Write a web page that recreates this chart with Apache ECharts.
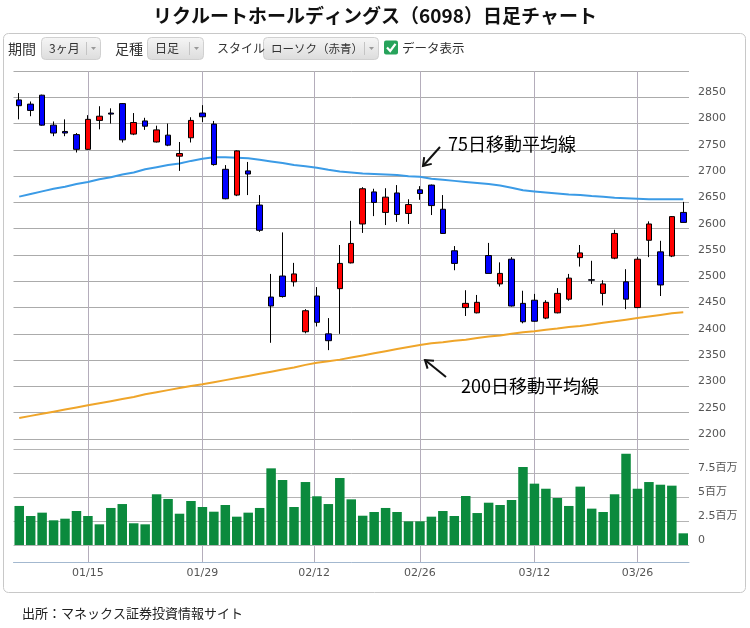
<!DOCTYPE html>
<html><head><meta charset="utf-8">
<script src="https://cdn.jsdelivr.net/npm/echarts@6/dist/echarts.min.js"></script>
<style>html,body{margin:0;padding:0;background:#fff;}#c{width:750px;height:628px;}</style>
</head><body><div id="c"></div>
<script>
// ---- data (2018) ----
const dates = ['01/04','01/05','01/09','01/10','01/11','01/12','01/15','01/16','01/17','01/18',
 '01/19','01/22','01/23','01/24','01/25','01/26','01/29','01/30','01/31','02/01',
 '02/02','02/05','02/06','02/07','02/08','02/09','02/13','02/14','02/15','02/16',
 '02/19','02/20','02/21','02/22','02/23','02/26','02/27','02/28','03/01','03/02',
 '03/05','03/06','03/07','03/08','03/09','03/12','03/13','03/14','03/15','03/16',
 '03/19','03/20','03/22','03/23','03/26','03/27','03/28','03/29','03/30'];
const opens  = [2845,2837,2854,2797,2785,2779,2751,2806,2820,2838,2780,2805,2765,2778,2738,2773,2820,2799,2713,2664,
 2710,2645,2470,2510,2499,2404,2472,2400,2486,2535,2609,2670,2631,2668,2629,2674,2683,2637,2558,2450,
 2440,2549,2495,2542,2458,2464,2430,2440,2466,2545,2503,2477,2544,2499,2450,2578,2556,2548,2631];
const closes = [2834,2825,2797,2782,2782,2751,2808,2814,2818,2769,2802,2795,2788,2759,2743,2806,2813,2722,2657,2748,
 2704,2597,2453,2471,2514,2444,2422,2387,2534,2572,2676,2650,2660,2627,2646,2667,2644,2591,2534,2458,
 2460,2515,2515,2453,2423,2424,2460,2477,2506,2554,2502,2495,2591,2466,2542,2609,2493,2623,2612];
const lows   = [2808,2814,2796,2776,2776,2745,2750,2789,2800,2764,2778,2788,2764,2757,2710,2764,2803,2720,2656,2662,
 2664,2594,2383,2469,2490,2401,2414,2369,2400,2534,2592,2624,2607,2613,2609,2655,2626,2590,2521,2434,
 2439,2515,2490,2452,2420,2423,2428,2439,2463,2528,2495,2454,2542,2447,2449,2546,2472,2546,2612];
const highs  = [2858,2842,2855,2804,2808,2782,2816,2833,2829,2839,2820,2811,2796,2800,2765,2812,2835,2805,2721,2749,
 2727,2664,2514,2593,2535,2447,2489,2430,2569,2615,2679,2676,2677,2683,2656,2681,2684,2664,2567,2483,
 2474,2573,2536,2546,2482,2476,2464,2487,2514,2569,2539,2502,2598,2523,2546,2614,2577,2624,2651];
const volumes = [4.08,3.03,3.38,2.58,2.75,3.55,3.03,2.16,3.87,4.28,2.27,2.16,5.30,4.81,3.27,4.60,3.97,3.48,4.18,2.96,
 3.38,3.87,8.01,6.79,3.97,6.58,5.09,4.28,7.00,4.77,3.06,3.45,3.87,3.45,2.47,2.47,2.96,3.55,3.03,5.12,
 3.34,4.42,4.18,4.70,8.15,6.41,5.88,4.91,4.08,6.10,3.80,3.45,5.30,9.54,5.88,6.58,6.30,6.20,1.22]; // 百万株
const ma75 = [2661,2666,2671,2676,2680,2685,2689,2694,2698,2703,2707,2713,2717,2721,2724,2729,2733,2736,2736,2735,
 2734,2731,2728,2725,2721,2719,2716,2712,2709,2707,2705,2704,2703,2702,2700,2699,2695,2693,2691,2689,
 2687,2685,2682,2678,2673,2671,2669,2667,2665,2664,2662,2661,2659,2658,2657,2656,2656,2656,2656];
const ma200 = [2240,2244,2248,2252,2256,2260,2264,2268,2272,2276,2280,2285,2289,2293,2297,2301,2304,2308,2312,2316,
 2320,2324,2328,2332,2336,2341,2345,2348,2351,2355,2359,2363,2367,2371,2375,2379,2382,2384,2387,2389,
 2392,2395,2397,2400,2403,2405,2408,2410,2413,2415,2418,2421,2424,2427,2430,2433,2436,2439,2441];
const xTickLabels = ['01/15','01/29','02/12','02/26','03/12','03/26'];
const priceMin = 2200, priceMax = 2900, priceStep = 50;
const volMax = 10, volStep = 2.5, volUnit = '百万';

// ---- helpers ----
function dayNum(s){const p=s.split('/').map(Number);return Date.UTC(2018,p[0]-1,p[1])/864e5;}
function tickPos(s){
  const t=dayNum(s);
  for(let i=0;i<dates.length;i++){
    const di=dayNum(dates[i]);
    if(di===t) return i;
    if(di>t){const pd=dayNum(dates[i-1]);return i-1+(t-pd)/(di-pd);}
  }
  return dates.length-1;
}
const tickPositions = xTickLabels.map(tickPos);
const candleData = dates.map((d,i)=>[opens[i],closes[i],lows[i],highs[i]]);

function arrow(x1,y1,x2,y2){
  const dx=x2-x1, dy=y2-y1, L=Math.hypot(dx,dy), ux=-dx/L, uy=-dy/L, a=0.6, h=9;
  const p1=[x2+h*(ux*Math.cos(a)-uy*Math.sin(a)), y2+h*(ux*Math.sin(a)+uy*Math.cos(a))];
  const p2=[x2+h*(ux*Math.cos(a)+uy*Math.sin(a)), y2+h*(-ux*Math.sin(a)+uy*Math.cos(a))];
  return [
    {type:'line',shape:{x1:x1,y1:y1,x2:x2,y2:y2},style:{stroke:'#111',lineWidth:2},z:100},
    {type:'polyline',shape:{points:[p1,[x2,y2],p2]},style:{stroke:'#111',lineWidth:2,fill:null},z:100}
  ];
}
const JP='"Noto Sans CJK JP", sans-serif';
function txt(t,x,y,size,opts){
  opts=opts||{};
  return {type:'text',x:x,y:y,z:100,style:{text:t,fill:opts.color||'#222',
    font:(opts.bold?'bold ':'')+size+'px '+(opts.family||JP),
    align:opts.align||'left',verticalAlign:'middle',textAlign:opts.align||'left',textVerticalAlign:'middle'}};
}
function button(x,w,label,labelSize){
  const g=[{type:'rect',shape:{x:x+0.5,y:37.5,width:w,height:22,r:4},z:90,
    style:{fill:{type:'linear',x:0,y:0,x2:0,y2:1,colorStops:[{offset:0,color:'#f6f6f6'},{offset:1,color:'#dcdcdc'}]},stroke:'#d0d0d0',lineWidth:1}},
    txt(label,x+8,48.5,labelSize,{color:'#333'}),
    {type:'line',z:95,shape:{x1:x+w-13.5,y1:42,x2:x+w-13.5,y2:55},style:{stroke:'#c4c4c4',lineWidth:1}},
    {type:'polygon',z:95,shape:{points:[[x+w-9,47],[x+w-4,47],[x+w-6.5,50]]},style:{fill:'#999'}}];
  return g;
}

const graphics = [].concat(
  [{type:'rect',shape:{x:3.5,y:33.5,width:742,height:559,r:5},style:{fill:'none',stroke:'#c8c8c8',lineWidth:1},z:-1}],
  [txt('リクルートホールディングス（6098）日足チャート',375,16,19,{bold:true,align:'center',color:'#111'})],
  [txt('期間',8,48.5,14,{color:'#333'})], button(41,59,'3ヶ月',12),
  [txt('足種',115,48.5,14,{color:'#333'})], button(147,56,'日足',12),
  [txt('スタイル',217,48.5,12,{color:'#333'})], button(263,115,'ローソク（赤青）',11.5),
  [{type:'rect',z:95,shape:{x:384,y:40.5,width:14,height:14,r:2},style:{fill:'#27a35b'}},
   {type:'polyline',z:96,shape:{points:[[387,47.5],[390.2,51],[395.5,43.8]]},style:{stroke:'#fff',lineWidth:2.2,fill:null}},
   txt('データ表示',402,48.5,12.5,{color:'#333'})],
  arrow(440,147,423,166),
  [txt('75日移動平均線',448,144,18,{color:'#000'})],
  arrow(446,377,425,360),
  [txt('200日移動平均線',461,386,18,{color:'#000'})],
  [txt('出所：マネックス証券投資情報サイト',22,613,13,{color:'#222'})]
);

const chart = echarts.init(document.getElementById('c'), null, {renderer:'canvas'});
const gridL=13.5, gridR=61;
const axisFont={color:'#555',fontSize:11,fontFamily:'"DejaVu Sans", "Noto Sans CJK JP", sans-serif'};
chart.setOption({
  animation:false,
  backgroundColor:'#fff',
  graphic:{elements:graphics},
  grid:[
    {left:gridL,right:gridR,top:71,height:368},
    {left:gridL,right:gridR,top:449.3,height:95.7},
    {left:gridL,right:gridR,top:71,height:491}
  ],
  xAxis:[
    {type:'category',gridIndex:0,data:dates,boundaryGap:true,axisLine:{show:false},axisTick:{show:false},axisLabel:{show:false},splitLine:{show:false}},
    {type:'category',gridIndex:1,data:dates,boundaryGap:true,axisLine:{show:false},axisTick:{show:false},axisLabel:{show:false},splitLine:{show:false}},
    {type:'value',gridIndex:2,min:-0.5,max:dates.length-0.5,
     axisLine:{show:true,lineStyle:{color:'#a3b8cf',width:1}},
     axisTick:{show:false,customValues:tickPositions},
     axisLabel:Object.assign({customValues:tickPositions,margin:6,
       formatter:function(v){let k=0,b=1e9;tickPositions.forEach((p,i)=>{if(Math.abs(p-v)<b){b=Math.abs(p-v);k=i;}});return xTickLabels[k];}},axisFont),
     splitLine:{show:true,lineStyle:{color:'#b4adbb',width:1}}}
  ],
  yAxis:[
    {type:'value',gridIndex:0,position:'right',min:priceMin,max:priceMax,interval:priceStep,
     axisLine:{show:false},axisTick:{show:false},
     axisLabel:Object.assign({showMaxLabel:false,verticalAlign:'bottom',lineHeight:10,margin:9,
       formatter:function(v){return String(v);}},axisFont),
     splitLine:{show:true,lineStyle:{color:'#ababab',width:1}}},
    {type:'value',gridIndex:1,position:'right',min:0,max:volMax,interval:volStep,
     axisLine:{show:false},axisTick:{show:false},
     axisLabel:Object.assign({showMaxLabel:false,verticalAlign:'bottom',lineHeight:10,margin:9,
       formatter:function(v){return v===0?'0':v+volUnit;}},axisFont),
     splitLine:{show:true,lineStyle:{color:'#b4b4b4',width:1}}},
    {type:'value',gridIndex:2,min:0,max:1,show:false}
  ],
  series:[
    {type:'candlestick',xAxisIndex:0,yAxisIndex:0,data:candleData,barWidth:6,z:5,
     itemStyle:{color:'#ff0000',color0:'#0000ff',borderColor:'#000',borderColor0:'#000',borderWidth:1}},
    {type:'line',xAxisIndex:0,yAxisIndex:0,data:ma75,symbol:'none',z:4,lineStyle:{color:'#3b9be6',width:2}},
    {type:'line',xAxisIndex:0,yAxisIndex:0,data:ma200,symbol:'none',z:4,lineStyle:{color:'#efa52a',width:2}},
    {type:'bar',xAxisIndex:1,yAxisIndex:1,data:volumes,barWidth:9.5,z:5,itemStyle:{color:'#0b8a3d'}}
  ]
});
</script></body></html>
